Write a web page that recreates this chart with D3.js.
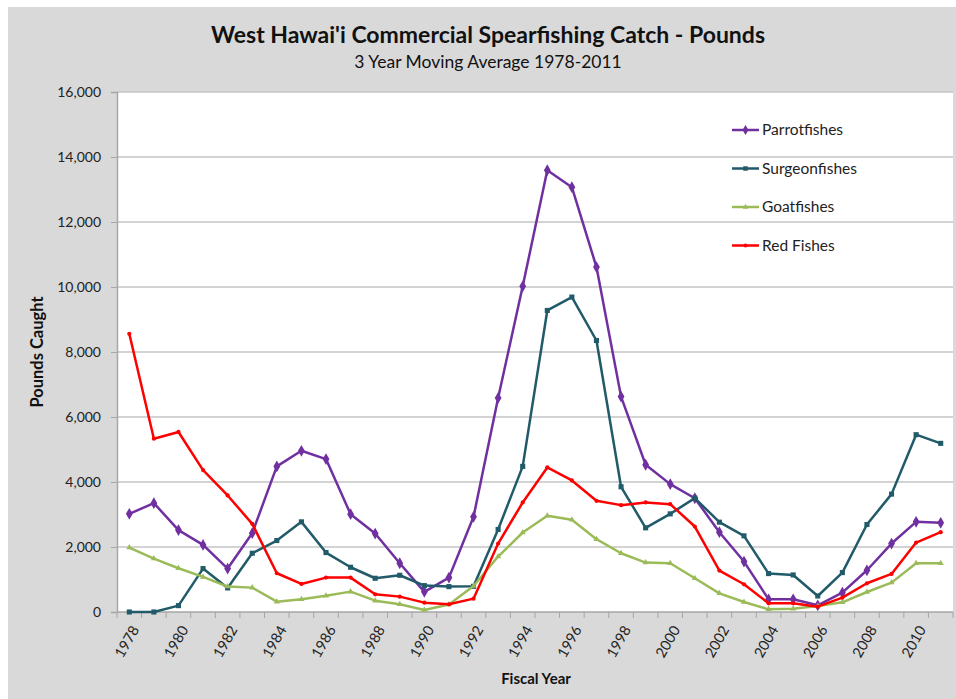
<!DOCTYPE html>
<html><head><meta charset="utf-8">
<script src="https://cdn.jsdelivr.net/npm/d3@7"></script>
<style>body{margin:0;background:#fff;} svg{display:block;}</style>
</head><body>
<svg id="c" width="956" height="699"></svg>
<script>
const years = d3.range(1978, 2012);
const parrotfishes = [3020,3350,2520,2065,1336,2425,4480,4960,4705,3010,2415,1500,620,1058,2928,6587,10020,13594,13070,10614,6627,4531,3935,3500,2456,1552,390,390,205,596,1284,2106,2774,2743];
const surgeonfishes = [0,0,196,1336,740,1808,2199,2774,1829,1377,1038,1130,812,781,790,2540,4480,9279,9690,8354,3853,2590,3020,3504,2764,2343,1182,1140,493,1212,2692,3627,5456,5189];
const goatfishes = [1983,1644,1346,1079,781,750,318,390,503,627,349,236,62,230,800,1706,2446,2959,2836,2240,1808,1521,1500,1038,575,308,82,103,185,298,616,904,1500,1500];
const redFishes = [8560,5333,5539,4367,3586,2713,1192,863,1058,1058,545,473,288,238,411,2106,3370,4449,4048,3421,3288,3370,3319,2630,1274,853,267,267,164,442,884,1171,2137,2456];
const seriesNames = ["Parrotfishes","Surgeonfishes","Goatfishes","Red Fishes"];
const seriesColors = ["#7030a0","#215a69","#9bbb59","#ff0000"];
const seriesShapes = [d3.symbolDiamond, d3.symbolSquare, d3.symbolTriangle, d3.symbolCircle];
const seriesValues = [parrotfishes, surgeonfishes, goatfishes, redFishes];
const yTicks = [0,2000,4000,6000,8000,10000,12000,14000,16000];
const xTickLabels = years.filter(y => (y - 1978) % 2 === 0);

const svg = d3.select("#c");
const font = "Lato, 'Open Sans', sans-serif";
svg.append("rect").attr("x",8).attr("y",7).attr("width",948).attr("height",692).attr("fill","#d9d9d9");

const L=117, R=953, T=92, B=612;
svg.append("rect").attr("x",L).attr("y",T).attr("width",R-L).attr("height",B-T).attr("fill","#fff");

const x = d3.scaleBand().domain(years).range([L,R]).padding(0);
const y = d3.scaleLinear().domain([0,16000]).range([B,T]);

// gridlines
svg.append("g").selectAll("line").data(yTicks.filter(t=>t>0)).join("line")
  .attr("x1",L).attr("x2",R).attr("y1",d=>y(d)).attr("y2",d=>y(d))
  .attr("stroke","#c4c4c4").attr("stroke-width",1.5);

// y axis
const yAxis = svg.append("g").attr("transform",`translate(${L},0)`)
  .call(d3.axisLeft(y).tickValues(yTicks).tickFormat(d3.format(",")).tickSize(6).tickPadding(10));
yAxis.select(".domain").attr("stroke","#a6a6a6").attr("stroke-width",1.5);
yAxis.selectAll(".tick line").attr("stroke","#a6a6a6");
yAxis.selectAll("text").attr("font-family",font).attr("font-size",14).attr("fill","#222");

// x axis
const xAxisG = svg.append("g").attr("transform",`translate(0,${B})`);
xAxisG.append("line").attr("x1",L).attr("x2",R).attr("stroke","#a6a6a6").attr("stroke-width",1.5);
xAxisG.selectAll("line.tk").data(years.concat([2012])).join("line").attr("class","tk")
  .attr("x1",d=>d===2012?R:x(d)).attr("x2",d=>d===2012?R:x(d)).attr("y1",0).attr("y2",6)
  .attr("stroke","#a6a6a6");
xAxisG.selectAll("text").data(xTickLabels).join("text")
  .attr("transform",d=>`translate(${x(d)+x.bandwidth()/2+6},${15}) rotate(-60)`)
  .attr("text-anchor","end").attr("dy","0.35em")
  .attr("font-family",font).attr("font-size",14.5).attr("fill","#222").text(d=>d);

// lines
const line = d3.line().x((d,i)=>x(years[i])+x.bandwidth()/2).y(d=>y(d));
seriesValues.forEach((vals,si)=>{
  const g = svg.append("g");
  g.append("path").datum(vals).attr("d",line).attr("fill","none")
    .attr("stroke",seriesColors[si]).attr("stroke-width",2.5).attr("stroke-linejoin","round");
  const sz = [40,26,16,14][si];
  g.selectAll("path.m").data(vals).join("path").attr("class","m")
    .attr("transform",(d,i)=>`translate(${x(years[i])+x.bandwidth()/2},${y(d)})`)
    .attr("d",d3.symbol().type(seriesShapes[si]).size(sz)).attr("fill",seriesColors[si]);
});

// legend
seriesNames.forEach((n,i)=>{
  const ly = 130 + i*38.5;
  const g = svg.append("g");
  g.append("line").attr("x1",732).attr("x2",759).attr("y1",ly).attr("y2",ly)
    .attr("stroke",seriesColors[i]).attr("stroke-width",2.5);
  g.append("path").attr("transform",`translate(745.5,${ly})`)
    .attr("d",d3.symbol().type(seriesShapes[i]).size([30,20,14,12][i])).attr("fill",seriesColors[i]);
  g.append("text").attr("x",762).attr("y",ly).attr("dy","0.35em")
    .attr("font-family",font).attr("font-size",15.5).attr("fill","#222").text(n);
});

// titles
svg.append("text").attr("x",488).attr("y",43).attr("text-anchor","middle")
  .attr("font-family",font).attr("font-weight","bold").attr("font-size",23).attr("fill","#111")
  .text("West Hawai'i Commercial Spearfishing Catch - Pounds");
svg.append("text").attr("x",488).attr("y",68).attr("text-anchor","middle")
  .attr("font-family",font).attr("font-size",17.5).attr("fill","#111")
  .text("3 Year Moving Average 1978-2011");
svg.append("text").attr("transform","translate(43,352) rotate(-90)").attr("text-anchor","middle")
  .attr("font-family",font).attr("font-weight","bold").attr("font-size",16.5).attr("fill","#111")
  .text("Pounds Caught");
svg.append("text").attr("x",536).attr("y",684).attr("text-anchor","middle")
  .attr("font-family",font).attr("font-weight","bold").attr("font-size",15).attr("fill","#111")
  .text("Fiscal Year");
</script>
</body></html>
